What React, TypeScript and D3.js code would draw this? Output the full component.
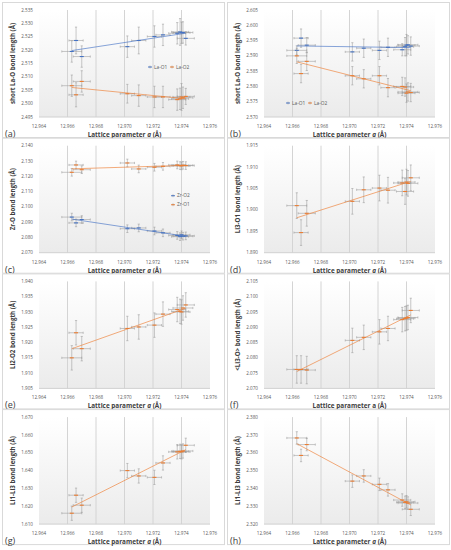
import { format, line, scaleLinear } from 'd3';

// shared sample lattice parameters (x) and their uncertainties
const latticeA = [12.9663, 12.9666, 12.967, 12.9702, 12.971, 12.9721, 12.9727, 12.9737, 12.9739, 12.974, 12.9741, 12.9743];
const latticeErr = [0.0007, 0.0005, 0.0006, 0.0005, 0.0005, 0.0005, 0.0005, 0.0006, 0.0006, 0.0006, 0.0007, 0.0006];

// (a) short La-O
const aLaO1 = [2.5195, 2.5236, 2.5176, 2.5213, 2.5236, 2.5251, 2.5257, 2.5263, 2.5268, 2.5265, 2.5266, 2.5244];
const aLaO1Err = [0.004, 0.005, 0.004, 0.004, 0.005, 0.004, 0.004, 0.004, 0.005, 0.004, 0.004, 0.0025];
const aLaO2 = [2.5067, 2.5033, 2.5083, 2.5037, 2.503, 2.5025, 2.5025, 2.5015, 2.5018, 2.5025, 2.5022, 2.5027];
const aLaO2Err = [0.004, 0.0045, 0.004, 0.0035, 0.004, 0.004, 0.004, 0.004, 0.004, 0.005, 0.004, 0.003];

// (b) short La-O
const bLaO1 = [2.5918, 2.5958, 2.5935, 2.5913, 2.5925, 2.5918, 2.5928, 2.592, 2.593, 2.5935, 2.5936, 2.5932];
const bLaO1Err = [0.0015, 0.003, 0.0025, 0.003, 0.003, 0.003, 0.003, 0.002, 0.003, 0.0035, 0.003, 0.003];
const bLaO2 = [2.59, 2.5842, 2.5882, 2.5835, 2.5825, 2.5835, 2.5796, 2.58, 2.5798, 2.5778, 2.5782, 2.578];
const bLaO2Err = [0.0025, 0.003, 0.003, 0.003, 0.003, 0.003, 0.003, 0.003, 0.003, 0.003, 0.003, 0.003];

// (c) Zr-O
const cZrO2 = [2.0933, 2.0895, 2.0917, 2.0857, 2.0862, 2.0842, 2.083, 2.0813, 2.0805, 2.0817, 2.0808, 2.081];
const cZrO2Err = [0.0025, 0.0025, 0.0025, 0.0025, 0.0025, 0.0025, 0.0025, 0.0025, 0.0025, 0.0025, 0.0025, 0.0025];
const cZrO1 = [2.1226, 2.1274, 2.1243, 2.1287, 2.1248, 2.1259, 2.1265, 2.1274, 2.127, 2.1268, 2.1272, 2.127];
const cZrO1Err = [0.0025, 0.0025, 0.0025, 0.0025, 0.0025, 0.0025, 0.0025, 0.0025, 0.0025, 0.0025, 0.0025, 0.0025];

// (d) Li3-O1
const dLi3O1 = [1.901, 1.8947, 1.8992, 1.902, 1.9047, 1.9051, 1.9046, 1.9063, 1.9043, 1.9065, 1.9062, 1.9075];
const dLi3O1Err = [0.003, 0.003, 0.003, 0.003, 0.003, 0.003, 0.003, 0.003, 0.003, 0.003, 0.003, 0.003];

// (e) Li2-O2
const eLi2O2 = [1.915, 1.9232, 1.918, 1.9246, 1.9251, 1.9257, 1.9293, 1.9308, 1.9302, 1.93, 1.9313, 1.9323];
const eLi2O2Err = [0.004, 0.004, 0.004, 0.004, 0.004, 0.004, 0.004, 0.004, 0.004, 0.004, 0.004, 0.004];

// (f) <Li3-O>
const fLi3O = [2.0762, 2.0762, 2.076, 2.0857, 2.0867, 2.0885, 2.0896, 2.0925, 2.0928, 2.093, 2.0932, 2.0955];
const fLi3OErr = [0.0045, 0.0045, 0.0045, 0.004, 0.004, 0.004, 0.004, 0.004, 0.004, 0.004, 0.004, 0.004];

// (g) Li1-Li3
const gLiLi = [1.6161, 1.6262, 1.6206, 1.64, 1.637, 1.6362, 1.6443, 1.6505, 1.6508, 1.6505, 1.651, 1.6542];
const gLiLiErr = [0.004, 0.004, 0.004, 0.004, 0.004, 0.004, 0.004, 0.004, 0.004, 0.004, 0.004, 0.004];

// (h) Li1-Li3
const hLiLi = [2.3683, 2.3585, 2.3646, 2.3441, 2.347, 2.3423, 2.3392, 2.3335, 2.3322, 2.3325, 2.3318, 2.3283];
const hLiLiErr = [0.0035, 0.0035, 0.0035, 0.0035, 0.0035, 0.0035, 0.0035, 0.0035, 0.0035, 0.0035, 0.0035, 0.0035];

const xDomain = [12.964, 12.976];

const BLUE = '#4472C4';
const ORANGE = '#ED7D31';

interface Series {
  name: string;
  color: string;
  y: number[];
  err: number[];
}

interface PanelSpec {
  tag: string;
  yTitle: string;
  italicA: boolean;
  yDomain: [number, number];
  yTicks: number;
  series: Series[];
  legend?: { x: number; y: number; column: boolean };
}

const panels: PanelSpec[] = [
  {
    tag: '(a)', yTitle: 'short La-O  bond length (Å)', italicA: true, yDomain: [2.495, 2.535], yTicks: 8,
    series: [
      { name: 'La-O1', color: BLUE, y: aLaO1, err: aLaO1Err },
      { name: 'La-O2', color: ORANGE, y: aLaO2, err: aLaO2Err },
    ],
    legend: { x: 148, y: 65, column: false },
  },
  {
    tag: '(b)', yTitle: 'short La-O  bond length (Å)', italicA: true, yDomain: [2.57, 2.605], yTicks: 7,
    series: [
      { name: 'La-O1', color: BLUE, y: bLaO1, err: bLaO1Err },
      { name: 'La-O2', color: ORANGE, y: bLaO2, err: bLaO2Err },
    ],
    legend: { x: 61, y: 101, column: false },
  },
  {
    tag: '(c)', yTitle: 'Zr-O bond length (Å)', italicA: true, yDomain: [2.07, 2.14], yTicks: 7,
    series: [
      { name: 'Zr-O2', color: BLUE, y: cZrO2, err: cZrO2Err },
      { name: 'Zr-O1', color: ORANGE, y: cZrO1, err: cZrO1Err },
    ],
    legend: { x: 171, y: 58, column: true },
  },
  {
    tag: '(d)', yTitle: 'Li3-O1 bond length (Å)', italicA: true, yDomain: [1.89, 1.915], yTicks: 5,
    series: [{ name: 'Li3-O1', color: ORANGE, y: dLi3O1, err: dLi3O1Err }],
  },
  {
    tag: '(e)', yTitle: 'Li2-O2 bond length (Å)', italicA: true, yDomain: [1.905, 1.94], yTicks: 7,
    series: [{ name: 'Li2-O2', color: ORANGE, y: eLi2O2, err: eLi2O2Err }],
  },
  {
    tag: '(f)', yTitle: '<Li3-O> bond length (Å)', italicA: false, yDomain: [2.07, 2.105], yTicks: 7,
    series: [{ name: '<Li3-O>', color: ORANGE, y: fLi3O, err: fLi3OErr }],
  },
  {
    tag: '(g)', yTitle: 'Li1-Li3 bond length (Å)', italicA: true, yDomain: [1.61, 1.67], yTicks: 6,
    series: [{ name: 'Li1-Li3', color: ORANGE, y: gLiLi, err: gLiLiErr }],
  },
  {
    tag: '(h)', yTitle: 'Li1-Li3 bond length (Å)', italicA: true, yDomain: [2.32, 2.38], yTicks: 6,
    series: [{ name: 'Li1-Li3', color: ORANGE, y: hLiLi, err: hLiLiErr }],
  },
];

const BOX_W = 222;
const BOX_H = 135;
const PLOT = { left: 37, right: 208, top: 8, bottom: 115 };
const FONT = '"Open Sans", "Liberation Sans", sans-serif';
const fmt = format('.3f');

// least-squares fit, like the Excel linear trendline
const fitLine = (xs: number[], ys: number[]) => {
  const n = xs.length;
  const mx = xs.reduce((s, v) => s + v, 0) / n;
  const my = ys.reduce((s, v) => s + v, 0) / n;
  let num = 0;
  let den = 0;
  xs.forEach((x, i) => {
    num += (x - mx) * (ys[i] - my);
    den += (x - mx) * (x - mx);
  });
  const slope = num / den;
  return (x: number) => my + slope * (x - mx);
};

const Panel = ({ spec, index, bx, by }: { spec: PanelSpec; index: number; bx: number; by: number }) => {
  const x = scaleLinear().domain(xDomain).range([PLOT.left, PLOT.right]);
  const y = scaleLinear().domain(spec.yDomain).range([PLOT.bottom, PLOT.top]);
  const xTicks = x.ticks(6);
  const yTicks = y.ticks(spec.yTicks);
  const midY = (PLOT.top + PLOT.bottom) / 2;
  const gradId = `grad-${index}`;
  const xMin = Math.min(...latticeA);
  const xMax = Math.max(...latticeA);
  const trend = line<number>()
    .x((d) => x(d))
    .y(() => 0);

  return (
    <g transform={`translate(${bx}, ${by})`}>
      <defs>
        <linearGradient id={gradId} x1="0" y1="0" x2="0" y2="1">
          <stop offset="0%" stopColor="#ffffff" />
          <stop offset="100%" stopColor="#ebebeb" />
        </linearGradient>
      </defs>
      <rect x={0.5} y={0.5} width={BOX_W} height={BOX_H} fill="#ffffff" stroke="#d9d9d9" />
      <rect
        x={PLOT.left}
        y={PLOT.top}
        width={PLOT.right - PLOT.left}
        height={PLOT.bottom - PLOT.top}
        fill={`url(#${gradId})`}
      />
      {xTicks.slice(1, -1).map((t) => (
        <line key={`g${t}`} x1={x(t)} x2={x(t)} y1={PLOT.top} y2={PLOT.bottom} stroke="#d4d4d4" strokeWidth={1} />
      ))}
      <line x1={PLOT.left} x2={PLOT.right} y1={PLOT.bottom} y2={PLOT.bottom} stroke="#d0d0d0" />
      {xTicks.map((t) => (
        <text key={`xt${t}`} x={x(t)} y={PLOT.bottom + 11} fontSize={4.6} fill="#595959" textAnchor="middle" fontFamily={FONT}>
          {fmt(t)}
        </text>
      ))}
      {yTicks.map((t) => (
        <text key={`yt${t}`} x={PLOT.left - 6} y={y(t) + 1.6} fontSize={4.6} fill="#595959" textAnchor="end" fontFamily={FONT}>
          {fmt(t)}
        </text>
      ))}
      <text
        transform={`translate(13, ${midY}) rotate(-90)`}
        fontSize={6.2}
        fontWeight="bold"
        fill="#404040"
        textAnchor="middle"
        fontFamily={FONT}
      >
        {spec.yTitle}
      </text>
      <text x={(PLOT.left + PLOT.right) / 2} y={PLOT.bottom + 20} fontSize={6.4} fontWeight="bold" fill="#404040" textAnchor="middle" fontFamily={FONT}>
        Lattice parameter{' '}
        <tspan fontStyle={spec.italicA ? 'italic' : 'normal'}>a</tspan> (Å)
      </text>
      <text x={3} y={PLOT.bottom + 20} fontSize={9} fill="#404040" fontFamily={FONT}>
        {spec.tag}
      </text>
      {spec.series.map((s) => {
        const f = fitLine(latticeA, s.y);
        const path = trend.y((d) => y(f(d)))([xMin, xMax]);
        return (
          <g key={s.name}>
            {s.y.map((v, i) => {
              const cx = x(latticeA[i]);
              const cy = y(v);
              const x0 = x(latticeA[i] - latticeErr[i]);
              const x1 = x(latticeA[i] + latticeErr[i]);
              const y0 = y(v - s.err[i]);
              const y1 = y(v + s.err[i]);
              return (
                <g key={i} stroke="#9a9a9a" strokeWidth={0.55}>
                  <line x1={cx} x2={cx} y1={y0} y2={y1} />
                  <line x1={cx - 1.1} x2={cx + 1.1} y1={y0} y2={y0} />
                  <line x1={cx - 1.1} x2={cx + 1.1} y1={y1} y2={y1} />
                  <line x1={x0} x2={x1} y1={cy} y2={cy} />
                  <line x1={x0} x2={x0} y1={cy - 1.1} y2={cy + 1.1} />
                  <line x1={x1} x2={x1} y1={cy - 1.1} y2={cy + 1.1} />
                </g>
              );
            })}
            <path d={path ?? ''} stroke={s.color} strokeWidth={0.8} fill="none" opacity={0.8} />
            {s.y.map((v, i) => (
              <line
                key={`m${i}`}
                x1={x(latticeA[i]) - 2}
                x2={x(latticeA[i]) + 2}
                y1={y(v)}
                y2={y(v)}
                stroke={s.color}
                strokeWidth={1.1}
              />
            ))}
          </g>
        );
      })}
      {spec.legend &&
        spec.series.map((s, i) => {
          const lx = spec.legend!.column ? spec.legend!.x : spec.legend!.x + i * 22;
          const ly = spec.legend!.column ? spec.legend!.y + i * 9 : spec.legend!.y;
          return (
            <g key={`lg${s.name}`}>
              <line x1={lx - 1.8} x2={lx + 1.8} y1={ly} y2={ly} stroke={s.color} strokeWidth={1.2} />
              <line x1={lx} x2={lx} y1={ly - 1.5} y2={ly + 1.5} stroke="#9a9a9a" strokeWidth={0.5} />
              <text x={lx + 4} y={ly + 1.7} fontSize={4.8} fill="#595959" fontFamily={FONT}>
                {s.name}
              </text>
            </g>
          );
        })}
    </g>
  );
};

export default function App() {
  return (
    <svg width={451} height={550} style={{ position: 'absolute', left: 0, top: 0, background: '#ffffff' }}>
      {panels.map((p, i) => (
        <Panel key={p.tag} spec={p} index={i} bx={i % 2 === 0 ? 2 : 227} by={2 + Math.floor(i / 2) * 135.7} />
      ))}
    </svg>
  );
}
